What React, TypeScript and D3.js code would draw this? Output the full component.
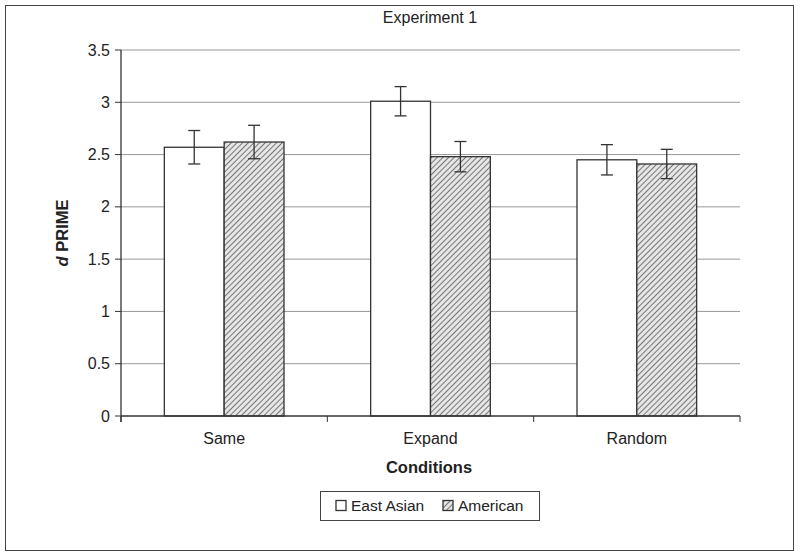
import React from "react";
import * as d3 from "d3";

const categories = ["Same", "Expand", "Random"];
const seriesNames = ["East Asian", "American"];
const eastAsian = [2.57, 3.01, 2.45];
const american = [2.62, 2.48, 2.41];
const eastAsianErr = [0.16, 0.14, 0.145];
const americanErr = [0.16, 0.145, 0.14];
const yTicks = [0, 0.5, 1, 1.5, 2, 2.5, 3, 3.5];

export default function App() {
  const W = 800, H = 556;
  const left = 121, right = 740, top = 50, bottom = 416;
  const x = d3.scaleBand<string>().domain(categories).range([left, right]).paddingInner(0).paddingOuter(0);
  const y = d3.scaleLinear().domain([0, 3.5]).range([bottom, top]);
  const bw = x.bandwidth();
  const barW = bw * 0.29;
  const series = [eastAsian, american];
  const errs = [eastAsianErr, americanErr];
  const font = "Arial, 'Liberation Sans', Helvetica, sans-serif";
  const stroke = "#333";
  return (
    <svg width={W} height={H} style={{ position: "absolute", left: 0, top: 0, background: "#fff" }} fontFamily={font}>
      <defs>
        <pattern id="hatch" patternUnits="userSpaceOnUse" width="4" height="4" patternTransform="rotate(45)">
          <rect width="4" height="4" fill="#e6e6e6" />
          <line x1="0" y1="0" x2="0" y2="4" stroke="#444" strokeWidth="1.4" />
        </pattern>
      </defs>
      <rect x={5.5} y={5.5} width={788} height={545} fill="none" stroke="#444" strokeWidth={1} />
      <text x={430} y={23} textAnchor="middle" fontSize={16} fill="#222">Experiment 1</text>
      {yTicks.map((t) => (
        <g key={t}>
          {t > 0 && <line x1={left} x2={right} y1={y(t)} y2={y(t)} stroke="#999" strokeWidth={1} />}
          <line x1={left - 6} x2={left} y1={y(t)} y2={y(t)} stroke={stroke} />
          <text x={110} y={y(t)} dy="0.35em" textAnchor="end" fontSize={16} fill="#222">{t}</text>
        </g>
      ))}
      {categories.map((c, i) => (
        <g key={c}>
          {series.map((s, j) => {
            const bx = x(c)! + bw / 2 - barW + j * barW;
            const v = s[i];
            const e = errs[j][i];
            const cx = bx + barW / 2;
            return (
              <g key={j}>
                <rect x={bx} y={y(v)} width={barW} height={y(0) - y(v)} fill={j === 0 ? "#fff" : "url(#hatch)"} stroke={stroke} strokeWidth={1.3} />
                <line x1={cx} x2={cx} y1={y(v + e)} y2={y(v - e)} stroke={stroke} strokeWidth={1.3} />
                <line x1={cx - 6} x2={cx + 6} y1={y(v + e)} y2={y(v + e)} stroke={stroke} strokeWidth={1.3} />
                <line x1={cx - 6} x2={cx + 6} y1={y(v - e)} y2={y(v - e)} stroke={stroke} strokeWidth={1.3} />
              </g>
            );
          })}
          <text x={x(c)! + bw / 2} y={444} textAnchor="middle" fontSize={16} fill="#222">{c}</text>
        </g>
      ))}
      <line x1={left} x2={left} y1={top} y2={bottom + 6} stroke={stroke} strokeWidth={1.3} />
      <line x1={left} x2={right} y1={bottom} y2={bottom} stroke={stroke} strokeWidth={1.3} />
      {[...categories.map((c) => x(c)!), right].map((tx, i) => (
        <line key={i} x1={tx} x2={tx} y1={bottom} y2={bottom + 6} stroke={stroke} />
      ))}
      <text x={429} y={473} textAnchor="middle" fontSize={16.5} fontWeight="bold" fill="#222">Conditions</text>
      <text transform={`translate(68,233) rotate(-90)`} textAnchor="middle" fontSize={16.5} fontWeight="bold" fill="#222">
        <tspan fontStyle="italic">d</tspan> PRIME
      </text>
      <rect x={320.5} y={491.5} width={219} height={29} fill="#fff" stroke="#444" />
      {seriesNames.map((n, j) => {
        const lx = j === 0 ? 336 : 443;
        return (
          <g key={n}>
            <rect x={lx} y={500.5} width={10} height={10} fill={j === 0 ? "#fff" : "url(#hatch)"} stroke={stroke} strokeWidth={1.3} />
            <text x={lx + 15} y={511} fontSize={15.5} fill="#222">{n}</text>
          </g>
        );
      })}
    </svg>
  );
}
